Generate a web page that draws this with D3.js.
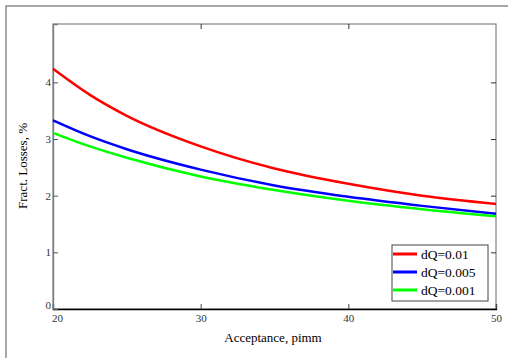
<!DOCTYPE html>
<html>
<head>
<meta charset="utf-8">
<script src="https://cdn.jsdelivr.net/npm/d3@7"></script>
<style>
  body { margin: 0; background: #fff; }
  svg { display: block; font-family: "Liberation Serif", "Times New Roman", serif; }
</style>
</head>
<body>
<svg id="chart" width="508" height="358"></svg>
<script>
// valores
const acceptance = [20, 22.5, 25, 30, 35, 40, 45, 50];
const lossHigh = [4.24, 3.78, 3.41, 2.87, 2.48, 2.21, 2.0, 1.855];
const lossMid = [3.33, 3.05, 2.82, 2.46, 2.18, 1.98, 1.82, 1.68];
const lossLow = [3.11, 2.87, 2.67, 2.34, 2.10, 1.91, 1.76, 1.635];
const seriesNames = ["dQ=0.01", "dQ=0.005", "dQ=0.001"];
const seriesColors = ["#ff0000", "#0000ff", "#00ff00"];
const xTicks = [20, 30, 40, 50];
const yTicks = [0, 1, 2, 3, 4];

const svg = d3.select("#chart");

// marco exterior
svg.append("path")
  .attr("d", "M6,358V6H508")
  .attr("fill", "none")
  .attr("stroke", "#8a8a8a")
  .attr("stroke-width", 1.5);

const pLeft = 53, pRight = 496, pTop = 24, pBottom = 309;

const x = d3.scaleLinear().domain([20, 50]).range([pLeft, pRight]);
const y = d3.scaleLinear().domain([0, 5.03]).range([pBottom, pTop]);

// marco del grafico
svg.append("rect")
  .attr("x", pLeft).attr("y", pTop)
  .attr("width", pRight - pLeft).attr("height", pBottom - pTop)
  .attr("fill", "none")
  .attr("stroke", "#6b6b6b")
  .attr("stroke-width", 1);

// Ejes
const xAxis = svg.append("g")
  .attr("transform", `translate(0,${pBottom})`)
  .call(d3.axisBottom(x).tickValues(xTicks).tickSize(-5).tickPadding(5).tickFormat(d3.format("d")));
xAxis.select(".domain").attr("stroke", "#000").attr("stroke-width", 1.3);
xAxis.selectAll(".tick line").attr("stroke", "#444");
xAxis.selectAll(".tick text")
  .attr("font-size", 11)
  .attr("font-family", "Liberation Serif")
  .attr("fill", "#333")
  .attr("dx", d => d === 20 ? 4 : 0);

const xTop = svg.append("g")
  .attr("transform", `translate(0,${pTop})`)
  .call(d3.axisTop(x).tickValues([30, 40]).tickSize(-5).tickFormat(""));
xTop.select(".domain").remove();
xTop.selectAll(".tick line").attr("stroke", "#333");

const yAxis = svg.append("g")
  .attr("transform", `translate(${pLeft},0)`)
  .call(d3.axisLeft(y).tickValues(yTicks).tickSize(-5).tickPadding(2).tickFormat(d3.format("d")));
yAxis.select(".domain").attr("stroke", "#7a7a7a").attr("stroke-width", 1.3);
yAxis.selectAll(".tick line").attr("stroke", "#555");
yAxis.selectAll(".tick text")
  .attr("font-size", 11)
  .attr("font-family", "Liberation Serif")
  .attr("fill", "#333")
  .attr("dy", d => d === 0 ? "-0.05em" : "0.32em");

const yRight = svg.append("g")
  .attr("transform", `translate(${pRight},0)`)
  .call(d3.axisRight(y).tickValues([1, 2, 3, 4]).tickSize(-5).tickFormat(""));
yRight.select(".domain").remove();
yRight.selectAll(".tick line").attr("stroke", "#333");

// curvas
const line = d3.line()
  .x((d, i) => x(acceptance[i]))
  .y(d => y(d))
  .curve(d3.curveMonotoneX);

[lossHigh, lossMid, lossLow].forEach((vals, i) => {
  svg.append("path")
    .datum(vals)
    .attr("d", line)
    .attr("fill", "none")
    .attr("stroke", seriesColors[i])
    .attr("stroke-width", 2.5);
});

// titulos
svg.append("text")
  .attr("x", 273).attr("y", 342)
  .attr("text-anchor", "middle")
  .attr("font-size", 13)
  .text("Acceptance, pimm");

svg.append("text")
  .attr("transform", "translate(27,166) rotate(-90)")
  .attr("text-anchor", "middle")
  .attr("font-size", 13)
  .text("Fract. Losses, %");

// leyenda
const legend = svg.append("g");
legend.append("rect")
  .attr("x", 392).attr("y", 245)
  .attr("width", 96).attr("height", 56)
  .attr("fill", "#fff")
  .attr("stroke", "#444")
  .attr("stroke-width", 1);

seriesNames.forEach((name, i) => {
  const cy = 254 + i * 18;
  legend.append("line")
    .attr("x1", 393).attr("x2", 417)
    .attr("y1", cy).attr("y2", cy)
    .attr("stroke", seriesColors[i])
    .attr("stroke-width", 3);
  legend.append("text")
    .attr("x", 421).attr("y", cy + 4.5)
    .attr("font-size", 13.5)
    .text(name);
});
</script>
</body>
</html>
